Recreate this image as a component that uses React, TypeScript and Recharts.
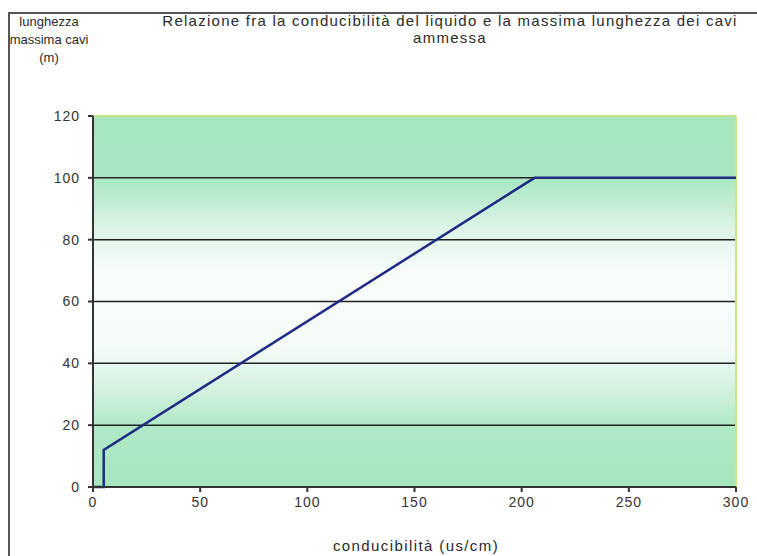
import React from 'react';
import { LineChart, Line, XAxis, YAxis, CartesianGrid, ReferenceLine } from 'recharts';

const conductivity = [0, 5, 5, 206, 300];
const maxLength = [0, 0, 12, 100, 100];
const xTicks = [0, 50, 100, 150, 200, 250, 300];
const yTicks = [0, 20, 40, 60, 80, 100, 120];

const data = conductivity.map((c, i) => ({ c, len: maxLength[i] }));

const font = 'Arial, "Liberation Sans", sans-serif';

const textStyle: React.CSSProperties = {
  position: 'absolute',
  fontFamily: font,
  color: '#2a2a2a',
  textAlign: 'center',
  whiteSpace: 'nowrap',
};

const tickStyle = { fill: '#333', fontSize: 14, fontFamily: font, letterSpacing: 1 };

const App: React.FC = () => {
  return (
    <div style={{ position: 'absolute', left: 0, top: 0, width: 757, height: 556, background: '#fff', overflow: 'hidden' }}>
      <div style={{ position: 'absolute', left: 8, top: 12, width: 760, height: 560, borderLeft: '2px solid #555', borderTop: '2px solid #555' }} />
      <div style={{ ...textStyle, left: 6, top: 13, width: 86, fontSize: 13, lineHeight: '18px' }}>
        lunghezza<br />massima cavi<br />(m)
      </div>
      <div style={{ ...textStyle, left: 100, top: 12, width: 700, fontSize: 15, letterSpacing: 1.25, lineHeight: '17px' }}>
        Relazione fra la conducibilità del liquido e la massima lunghezza dei cavi<br />ammessa
      </div>
      <div style={{ ...textStyle, left: 316, top: 537, width: 200, fontSize: 15, letterSpacing: 1.4, lineHeight: '18px' }}>
        conducibilità (us/cm)
      </div>
      <div style={{ position: 'absolute', left: 0, top: 0 }}>
        <LineChart width={757} height={556} data={data} margin={{ top: 116, right: 21, bottom: 39, left: 0 }}>
          <defs>
            <linearGradient id="bgGrad" x1="0" y1="0" x2="0" y2="1">
              <stop offset="0" stopColor="#a6e6bf" />
              <stop offset="0.17" stopColor="#a9e7c2" />
              <stop offset="0.3" stopColor="#dcf4e6" />
              <stop offset="0.42" stopColor="#f7fcf9" />
              <stop offset="0.62" stopColor="#f5fcf8" />
              <stop offset="0.72" stopColor="#d8f3e3" />
              <stop offset="0.84" stopColor="#aee8c5" />
              <stop offset="1" stopColor="#a6e6bf" />
            </linearGradient>
          </defs>
          <CartesianGrid
            horizontal={true}
            vertical={false}
            stroke="#222"
            strokeWidth={1.5}
            fill="url(#bgGrad)"
            fillOpacity={1}
          />
          <ReferenceLine y={120} stroke="#c8e68a" strokeWidth={2} />
          <ReferenceLine x={300} stroke="#c8e68a" strokeWidth={2} />
          <XAxis
            type="number"
            dataKey="c"
            domain={[0, 300]}
            ticks={xTicks}
            interval={0}
            height={30}
            stroke="#333"
            strokeWidth={2}
            tickSize={5}
            tickMargin={5}
            tick={tickStyle}
          />
          <YAxis
            type="number"
            domain={[0, 120]}
            ticks={yTicks}
            interval={0}
            width={93}
            stroke="#333"
            strokeWidth={2}
            tickSize={5}
            tickMargin={8}
            tick={tickStyle}
          />
          <Line
            type="linear"
            dataKey="len"
            stroke="#1f2a85"
            strokeWidth={2.5}
            dot={false}
            isAnimationActive={false}
          />
        </LineChart>
      </div>
    </div>
  );
};

export default App;
